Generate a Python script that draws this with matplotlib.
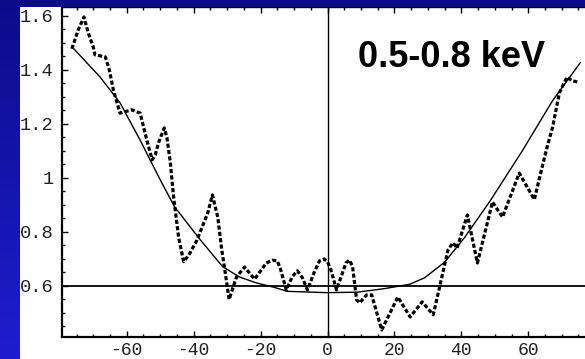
import numpy as np
import matplotlib
matplotlib.use("Agg")
import matplotlib.pyplot as plt
from matplotlib.patches import Rectangle

# ---- data ----
data_x = [-76.4, -74.5, -72.8, -71.5, -70.0, -69.5, -66.4, -65.2, -64.0, -62.0,
          -58.5, -56.0, -54.0, -52.4, -51.5, -50.5, -48.8, -48.0, -47.0, -46.0,
          -44.5, -43.0, -41.4, -39.0, -35.8, -34.4, -32.8, -31.6, -30.7, -29.4,
          -27.2, -24.8, -21.8, -18.3, -16.5, -15.0, -14.0, -12.3, -10.5, -9.0,
          -7.5, -6.0, -4.0, -2.4, -1.0, 0.0, 1.0, 2.7, 5.5, 6.6,
          7.5, 8.7, 9.6, 11.7, 13.2, 16.2, 21.0, 24.7, 28.3, 31.6,
          36.0, 37.5, 38.7, 41.8, 44.8, 49.3, 52.3, 57.3, 61.8, 65.4,
          67.3, 69.3, 71.6, 73.0, 74.9]
data_y = [1.478, 1.548, 1.596, 1.537, 1.485, 1.456, 1.448, 1.400, 1.326, 1.240,
          1.252, 1.240, 1.140, 1.067, 1.085, 1.130, 1.185, 1.150, 1.060, 0.930,
          0.780, 0.690, 0.715, 0.770, 0.870, 0.937, 0.855, 0.733, 0.660, 0.550,
          0.633, 0.670, 0.625, 0.685, 0.695, 0.693, 0.660, 0.585, 0.635, 0.656,
          0.630, 0.585, 0.650, 0.693, 0.700, 0.689, 0.660, 0.585, 0.685, 0.696,
          0.670, 0.548, 0.537, 0.567, 0.567, 0.437, 0.559, 0.485, 0.541, 0.493,
          0.733, 0.760, 0.740, 0.863, 0.685, 0.911, 0.855, 1.018, 0.920, 1.104,
          1.190, 1.315, 1.374, 1.360, 1.355]

fit_x = [-75.8, -68.0, -62.0, -56.0, -50.0, -45.7, -38.3, -31.4, -26.3, -21.2,
         -16.0, -12.0, 0.0, 9.0, 17.0, 24.5, 29.0, 35.0, 41.0, 48.6,
         58.2, 67.2, 75.5]
fit_y = [1.478, 1.374, 1.278, 1.140, 0.993, 0.893, 0.775, 0.672, 0.633, 0.611,
         0.595, 0.580, 0.575, 0.577, 0.590, 0.606, 0.630, 0.688, 0.780, 0.915,
         1.100, 1.285, 1.426]

ref_level = 0.6
x_major = [-60, -40, -20, 0, 20, 40, 60]
y_major = [0.6, 0.8, 1.0, 1.2, 1.4, 1.6]
y_labels = ["0.6", "0.8", "1", "1.2", "1.4", "1.6"]
title_text = "0.5-0.8 keV"

W, H = 585, 359
fig = plt.figure(figsize=(W / 100, H / 100), dpi=100)

# background gradient (blue slide)
bg = fig.add_axes([0, 0, 1, 1])
bg.set_axis_off()
grad = np.linspace(0, 1, 256)[:, None]
c_top = np.array([12, 12, 138]) / 255
c_bot = np.array([30, 30, 208]) / 255
img = (c_top[None, None, :] * (1 - grad[..., None]) + c_bot[None, None, :] * grad[..., None])
img = np.repeat(img, 2, axis=1)
bg.imshow(img, aspect="auto", extent=[0, 1, 0, 1], origin="upper")
bg.set_xlim(0, 1)
bg.set_ylim(0, 1)
bg.add_patch(Rectangle((20 / W, 0), 1 - 20 / W, (H - 7) / H, facecolor="white",
                       edgecolor="none", transform=bg.transAxes))

# main plot
left_px, bottom_px, top_px = 62, 336.7, 7
ax = fig.add_axes([left_px / W, (H - bottom_px) / H, 1 - left_px / W, (bottom_px - top_px) / H])
ax.patch.set_alpha(0)

ax.plot(fit_x, fit_y, color="black", lw=1.0)
ax.plot(data_x, data_y, color="black", lw=2.3, linestyle=(0, (1.3, 0.7)))
ax.axhline(ref_level, color="black", lw=1.3)
ax.axvline(0, color="black", lw=1.0)

ax.set_xlim(-79.35, 76.95)
ax.set_ylim(0.412, 1.633)

ax.set_xticks(x_major)
ax.set_xticklabels([str(v) for v in x_major])
ax.set_xticks(np.arange(-75, 76, 5), minor=True)
ax.set_yticks(y_major)
ax.set_yticklabels(y_labels)
ax.set_yticks(np.arange(0.45, 1.61, 0.05), minor=True)

ax.tick_params(which="both", direction="in", top=True, right=False, width=1.0, color="black")
ax.tick_params(which="major", length=4.5)
ax.tick_params(which="minor", length=2.5)
ax.tick_params(axis="x", which="major", pad=3.5, labelsize=13)
ax.tick_params(axis="y", which="major", pad=6.0, labelsize=13.5)
for lab in ax.get_xticklabels() + ax.get_yticklabels():
    lab.set_fontfamily("Liberation Mono")
    lab.set_color("#222222")

ax.spines["right"].set_visible(False)
ax.spines["left"].set_linewidth(1.6)
ax.spines["bottom"].set_linewidth(1.6)
ax.spines["top"].set_linewidth(1.0)

fig.text(358 / W, 1 - 67 / H, title_text, fontsize=26, fontweight="bold",
         family="Liberation Sans", color="black", va="baseline", ha="left")

fig.savefig("out.png", dpi=100)
